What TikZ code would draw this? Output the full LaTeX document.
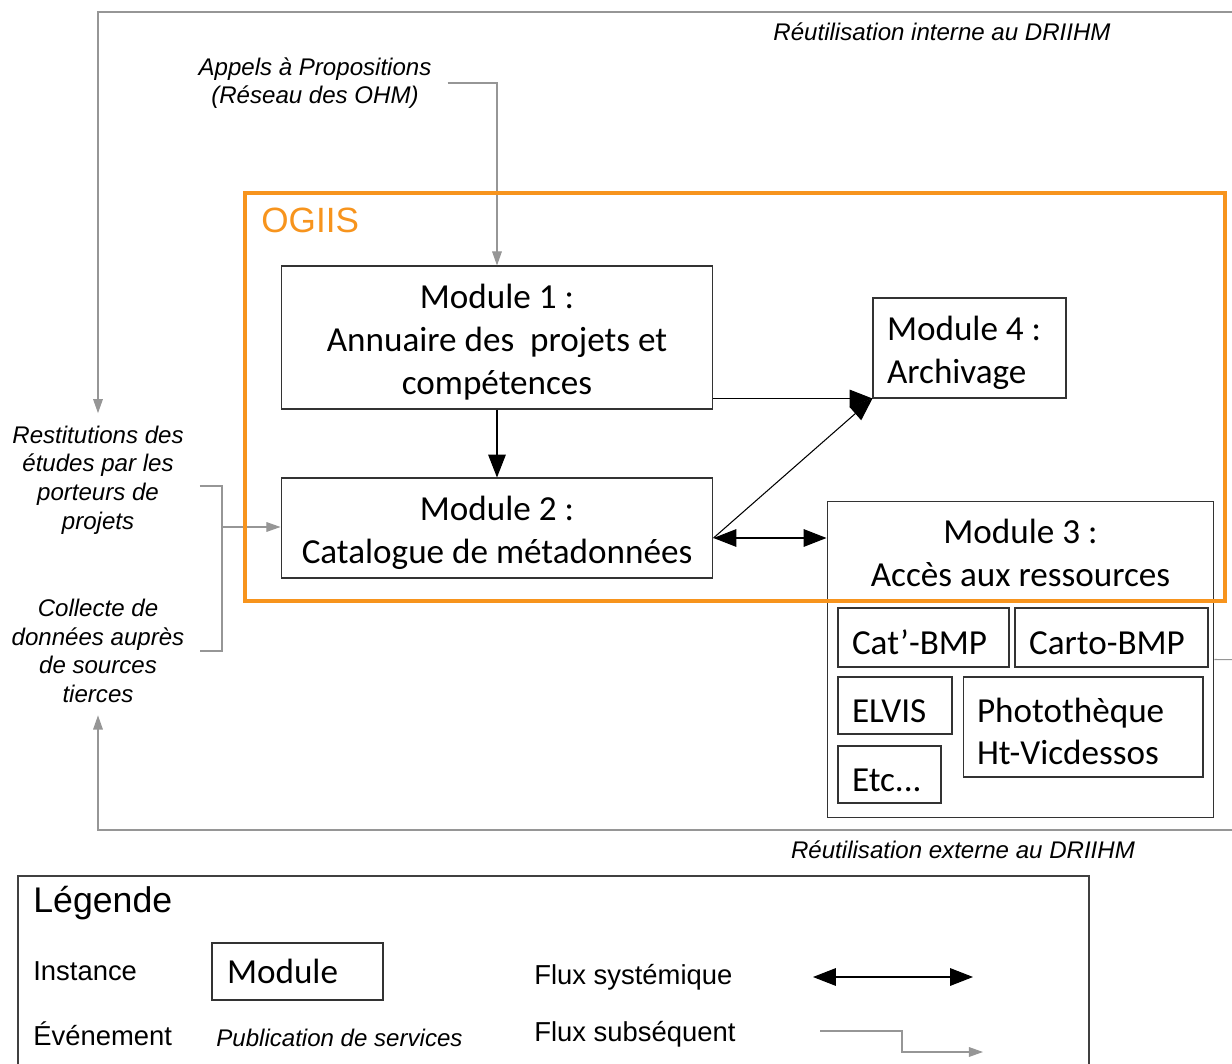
\documentclass[tikz,border=0pt]{standalone}
\usepackage{fontspec}
\setmainfont{Liberation Sans}
\newfontfamily\calibrifont{Carlito}
\usetikzlibrary{arrows.meta, positioning, calc}
\definecolor{ogiisorange}{RGB}{247,148,29}
\definecolor{flowgray}{RGB}{150,150,150}
\newcommand{\modfont}{\calibrifont\fontsize{20}{24.4}\selectfont}
\newcommand{\evtfont}{\itshape\fontsize{13.7}{16.3}\selectfont}
\newcommand{\legfont}{\fontsize{15.6}{18}\selectfont}

\begin{document}
\begin{tikzpicture}[x=0.02cm, y=-0.02cm,
    modbox/.style={draw=black!80, line width=0.6pt, inner xsep=0.28cm, inner ysep=0pt, font=\modfont},
    lowered/.style={execute at begin node={\rule{0pt}{19pt}}},
    evtlabel/.style={font=\evtfont, align=center, inner xsep=9pt, inner ysep=7pt},
    leglabel/.style={font=\legfont, anchor=west, inner sep=0pt},
    sysflux/.style={-{Triangle[length=13pt,width=10pt]}, line width=0.6pt, black},
    sysboth/.style={{Triangle[length=13pt,width=10pt]}-{Triangle[length=13pt,width=10pt]}, line width=0.6pt, black},
    subflux/.style={-{Triangle[length=8pt,width=5.5pt]}, line width=0.6pt, flowgray},
    subline/.style={line width=0.6pt, flowgray},
    ogiis/.style={draw=ogiisorange, line width=2.3pt},
    legframe/.style={draw=black!75, line width=0.6pt}]
    \useasboundingbox (0,0) rectangle (1232,1064);

    % Evenements
    \node[evtlabel] (interne) at (942,32) {Réutilisation interne au DRIIHM};
    \node[evtlabel] (appels) at (315,83) {Appels à Propositions\\(Réseau des OHM)};
    \node[evtlabel] (restit) at (98,480) {Restitutions des\\études par les\\porteurs de\\projets};
    \node[evtlabel] (collecte) at (98,651) {Collecte de\\données auprès\\de sources\\tierces};
    \node[evtlabel] (externe) at (963,850) {Réutilisation externe au DRIIHM};

    % Modules
    \node[modbox, lowered, text width=8.08cm, align=flush center, minimum height=2.86cm] (m1) at (497,337.5) {Module 1 :\\Annuaire des\ \ projets et\\compétences};
    \node[modbox, lowered, text width=8.08cm, align=flush center, minimum height=2cm] (m2) at (497,528) {Module 2 :\\Catalogue de métadonnées};
    \node[modbox, lowered, text width=3.3cm, align=flush left, minimum height=2cm] (m4) at (969.5,348) {Module 4 :\\Archivage};
    \node[modbox, minimum width=7.74cm, minimum height=6.34cm] (m3) at (1020.5,659.5) {};
    \node[font=\modfont, align=center] (m3t) at (1020.5,552.5) {Module 3 :\\Accès aux ressources};

    % Ressources
    \node[modbox, lowered, text width=2.86cm, align=flush left, minimum height=1.18cm] (catbmp) at (923.5,637.5) {Cat’-BMP};
    \node[modbox, lowered, text width=3.3cm, align=flush left, minimum height=1.18cm] (cartobmp) at (1111.5,637.5) {Carto-BMP};
    \node[modbox, lowered, text width=1.72cm, align=flush left, minimum height=1.14cm] (elvis) at (895,705.5) {ELVIS};
    \node[modbox, lowered, text width=4.24cm, align=flush left, minimum height=2cm] (photo) at (1083,727) {Photothèque\\Ht-Vicdessos};
    \node[modbox, lowered, text width=1.5cm, align=flush left, minimum height=1.14cm] (etc) at (889.5,774.5) {Etc...};

    % Flux systemiques
    \draw[sysflux] (m1) -- (m2);
    \draw[sysflux] (m1.east |- m4.south) -- (m4.south west);
    \coordinate (m2r) at ($(m2.east)+(0,10)$);
    \draw[sysflux] (m2r) -- (m4.south west);
    \draw[sysboth] (m2r) -- (m2r -| m3.west);

    % Flux subsequents
    \draw[subflux] (appels.east) -| (m1.north);
    \coordinate (jn) at (222,527);
    \draw[subline] ($(restit.east)+(0,6)$) -| (jn) |- (collecte.east);
    \draw[subflux] (jn) -- (jn -| m2.west);
    \coordinate (rside) at (1260,660);
    \coordinate (topleft) at (98,12);
    \coordinate (botleft) at (98,830);
    \draw[subline] (m3.east) -- (rside);
    \draw[subflux] (rside) |- (topleft) -- (restit.north);
    \draw[subflux] (rside) |- (botleft) -- (collecte.south);

    % OGIIS
    \draw[ogiis] (245,193) rectangle (1225,601);
    \node[font=\fontsize{20}{24}\selectfont, text=ogiisorange, anchor=west, inner sep=0pt] (ogiislabel) at (261,220) {OGIIS};

    % Legende
    \draw[legframe] (18,876) rectangle (1089,1100);
    \node[leglabel, font=\fontsize{20.3}{24}\selectfont] (legtitle) at (33,903) {Légende};
    \node[leglabel] (linst) at (33,971) {Instance};
    \node[modbox, text width=2.82cm, align=flush left, inner xsep=0.3cm, minimum height=1.14cm] (lmod) at (297.5,971.5) {Module};
    \node[leglabel] (levt) at (33,1034) {Événement};
    \node[leglabel, font=\evtfont] (lpub) at (216,1038) {Publication de services};
    \node[leglabel] (lsys) at (534,977) {Flux systémique};
    \node[leglabel] (lsub) at (534,1034) {Flux subséquent};
    \coordinate (sysa) at (813,977);
    \coordinate (sysb) at (973,977);
    \draw[sysboth] (sysa) -- (sysb);
    \coordinate (suba) at (820,1031);
    \coordinate (subb) at (983,1052);
    \draw[subflux] (suba) -- ++(82,0) |- (subb);
\end{tikzpicture}
\end{document}
